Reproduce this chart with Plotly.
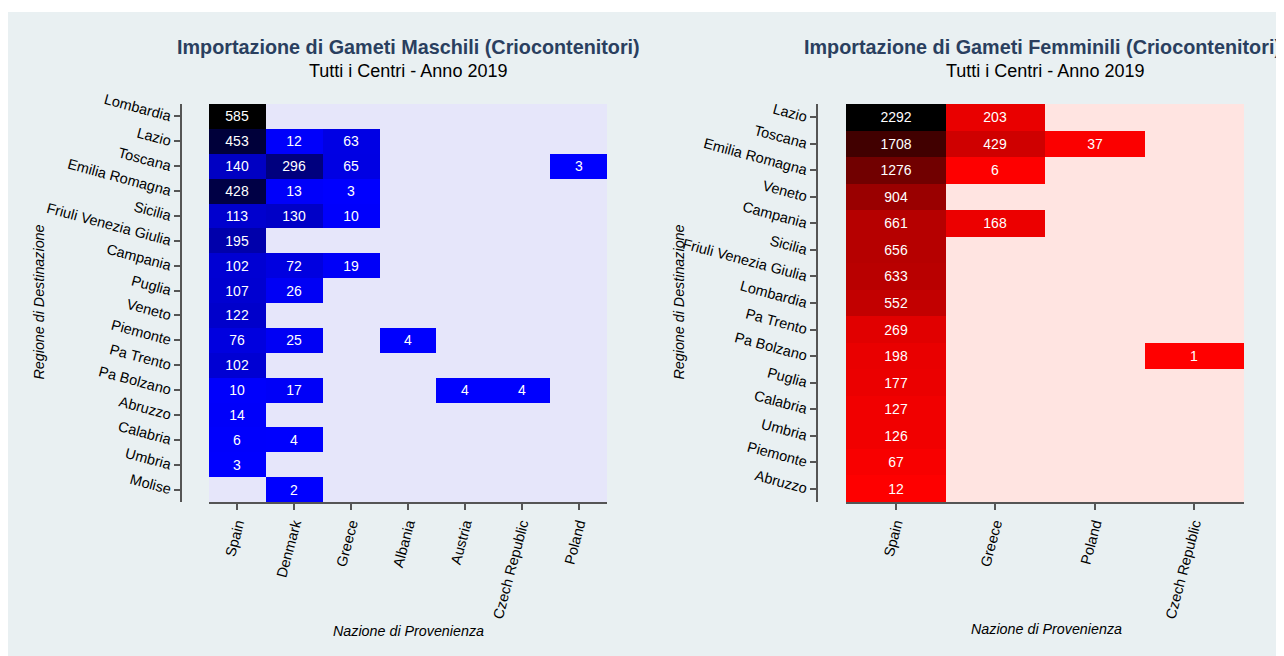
import plotly.graph_objects as go

# ---------------- DATA ----------------
N = None
m_regions = ["Lombardia", "Lazio", "Toscana", "Emilia Romagna", "Sicilia",
             "Friuli Venezia Giulia", "Campania", "Puglia", "Veneto", "Piemonte",
             "Pa Trento", "Pa Bolzano", "Abruzzo", "Calabria", "Umbria", "Molise"]
m_countries = ["Spain", "Denmark", "Greece", "Albania", "Austria", "Czech Republic", "Poland"]
m_values = [
    [585, N, N, N, N, N, N],
    [453, 12, 63, N, N, N, N],
    [140, 296, 65, N, N, N, 3],
    [428, 13, 3, N, N, N, N],
    [113, 130, 10, N, N, N, N],
    [195, N, N, N, N, N, N],
    [102, 72, 19, N, N, N, N],
    [107, 26, N, N, N, N, N],
    [122, N, N, N, N, N, N],
    [76, 25, N, 4, N, N, N],
    [102, N, N, N, N, N, N],
    [10, 17, N, N, 4, 4, N],
    [14, N, N, N, N, N, N],
    [6, 4, N, N, N, N, N],
    [3, N, N, N, N, N, N],
    [N, 2, N, N, N, N, N],
]

f_regions = ["Lazio", "Toscana", "Emilia Romagna", "Veneto", "Campania", "Sicilia",
             "Friuli Venezia Giulia", "Lombardia", "Pa Trento", "Pa Bolzano", "Puglia",
             "Calabria", "Umbria", "Piemonte", "Abruzzo"]
f_countries = ["Spain", "Greece", "Poland", "Czech Republic"]
f_values = [
    [2292, 203, N, N],
    [1708, 429, 37, N],
    [1276, 6, N, N],
    [904, N, N, N],
    [661, 168, N, N],
    [656, N, N, N],
    [633, N, N, N],
    [552, N, N, N],
    [269, N, N, N],
    [198, N, N, 1],
    [177, N, N, N],
    [127, N, N, N],
    [126, N, N, N],
    [67, N, N, N],
    [12, N, N, N],
]

title_m = "Importazione di Gameti Maschili (Criocontenitori)"
title_f = "Importazione di Gameti Femminili (Criocontenitori)"
subtitle = "Tutti i Centri - Anno 2019"
x_title = "Nazione di Provenienza"
y_title = "Regione di Destinazione"

# ---------------- STYLE / LAYOUT HELPERS ----------------
FONT = "Arial, Liberation Sans, Helvetica, sans-serif"
W, H = 1276, 648
OX, OY = 8, 8  # page offset of the figure (body margin)


def px(x):
    return (x - OX) / W


def py(y):
    return 1 - (y - OY) / H


def to_text(rows):
    return [["" if v is None else str(v) for v in r] for r in rows]


fig = go.Figure()
fig.add_trace(go.Heatmap(
    z=m_values, x=m_countries, y=m_regions, text=to_text(m_values),
    texttemplate="%{text}", textfont=dict(family=FONT, size=14, color="white"),
    colorscale=[[0, "#0000ff"], [1, "#000000"]], showscale=False,
    hoverongaps=False, xaxis="x", yaxis="y"))
fig.add_trace(go.Heatmap(
    z=f_values, x=f_countries, y=f_regions, text=to_text(f_values),
    texttemplate="%{text}", textfont=dict(family=FONT, size=14, color="white"),
    colorscale=[[0, "#ff0000"], [1, "#000000"]], showscale=False,
    hoverongaps=False, xaxis="x2", yaxis="y2"))

axis_common = dict(showline=True, linecolor="#555", linewidth=1.5, ticks="outside",
                   ticklen=6, tickcolor="#555", tickwidth=1.5, showgrid=False, zeroline=False,
                   tickfont=dict(family=FONT, size=14.5, color="black"))

ydom = [py(502), py(104)]
fig.update_layout(
    xaxis=dict(domain=[px(209), px(607)], anchor="y", tickangle=-75, type="category", **axis_common),
    yaxis=dict(domain=ydom, anchor="free", position=px(181), autorange="reversed",
               tickangle=15, type="category", **axis_common),
    xaxis2=dict(domain=[px(846), px(1244)], anchor="y2", tickangle=-75, type="category", **axis_common),
    yaxis2=dict(domain=ydom, anchor="free", position=px(817), autorange="reversed",
                tickangle=15, type="category", **axis_common),
)

shapes = [
    dict(type="rect", xref="x domain", yref="y domain", x0=0, x1=1, y0=0, y1=1,
         fillcolor="#e6e6fa", line=dict(width=0), layer="below"),
    dict(type="rect", xref="x2 domain", yref="y2 domain", x0=0, x1=1, y0=0, y1=1,
         fillcolor="#ffe4e1", line=dict(width=0), layer="below"),
    dict(type="rect", xref="paper", yref="paper", x0=0, x1=1, y0=py(12), y1=1,
         fillcolor="white", line=dict(width=0), layer="above"),
]

annotations = []
for cx, t in [(408, title_m), (1042, title_f)]:
    annotations.append(dict(text="<b>" + t + "</b>", x=px(cx), y=py(47), xref="paper", yref="paper",
                            showarrow=False, xanchor="center", yanchor="middle",
                            font=dict(family=FONT, size=19.8, color="#2a3f5f")))
for cx in [408, 1045]:
    annotations.append(dict(text=subtitle, x=px(cx), y=py(71.4), xref="paper", yref="paper",
                            showarrow=False, xanchor="center", yanchor="middle",
                            font=dict(family=FONT, size=18, color="black")))
for cx, cy in [(408.5, 630.8), (1046, 629)]:
    annotations.append(dict(text="<i>" + x_title + "</i>", x=px(cx), y=py(cy), xref="paper", yref="paper",
                            showarrow=False, xanchor="center", yanchor="middle",
                            font=dict(family=FONT, size=14.3, color="black")))
for cx in [38, 678]:
    annotations.append(dict(text="<i>" + y_title + "</i>", x=px(cx), y=py(302.5), xref="paper", yref="paper",
                            showarrow=False, xanchor="center", yanchor="middle", textangle=-90,
                            font=dict(family=FONT, size=14.3, color="black")))

fig.update_layout(
    template="none",
    width=W, height=H,
    margin=dict(l=0, r=0, t=0, b=0, pad=0),
    paper_bgcolor="#e9f0f2",
    plot_bgcolor="rgba(0,0,0,0)",
    font=dict(family=FONT, size=14, color="black"),
    showlegend=False,
    shapes=shapes,
    annotations=annotations,
)

fig.write_html("out.html")
